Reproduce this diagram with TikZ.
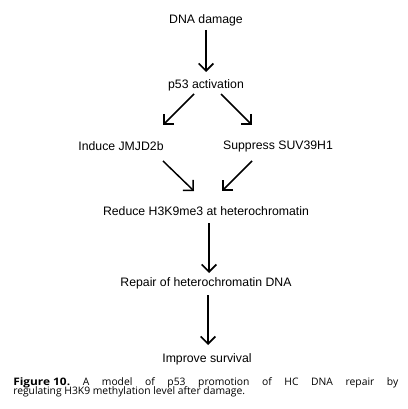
\documentclass[tikz,border=0pt]{standalone}
\usepackage{fontspec}
\setmainfont{Liberation Sans}
\newfontfamily\capfont{Open Sans}
\usetikzlibrary{arrows.meta}
\begin{document}
\begin{tikzpicture}[x=0.75pt,y=-0.75pt,
  lbl/.style={inner sep=0pt,font=\fontsize{9.2}{11}\selectfont},
  arr/.style={-{Straight Barb[length=5.5pt,width=11pt,line width=1.3pt]},line width=1.3pt},
  darr/.style={-{Straight Barb[length=5.5pt,width=11pt,line width=1.15pt]},line width=1.1pt},
  captxt/.style={anchor=base west,inner sep=0pt,font=\capfont\fontsize{7.75}{8}\selectfont}]
\useasboundingbox (0,0) rectangle (407,409);
\node[lbl] (dna) at (206,20) {DNA damage};
\node[lbl] (p53) at (206,85) {p53 activation};
\node[lbl] (jm) at (121,146) {Induce JMJD2b};
\node[lbl] (suv) at (278,146) {Suppress SUV39H1};
\node[lbl] (red) at (206,211) {Reduce H3K9me3 at heterochromatin};
\node[lbl] (rep) at (206,283) {Repair of heterochromatin DNA};
\node[lbl] (imp) at (207,359) {Improve survival};
\coordinate (a1s) at (206,30); \coordinate (a1e) at (206,72);
\coordinate (a2s) at (194,94); \coordinate (a2e) at (163,125);
\coordinate (a3s) at (221,94); \coordinate (a3e) at (252,125);
\coordinate (a4s) at (163,161); \coordinate (a4e) at (194,191);
\coordinate (a5s) at (252,161); \coordinate (a5e) at (222,191);
\coordinate (a6s) at (209,223); \coordinate (a6e) at (209,273);
\coordinate (a7s) at (208,295); \coordinate (a7e) at (208,345);
\draw[arr] (a1s) -- (a1e);
\draw[darr] (a2s) -- (a2e);
\draw[darr] (a3s) -- (a3e);
\draw[darr] (a4s) -- (a4e);
\draw[darr] (a5s) -- (a5e);
\draw[arr] (a6s) -- (a6e);
\draw[arr] (a7s) -- (a7e);
\node[captxt] (cap1) at (13,385)
  {\makebox[288.75pt][s]{\textbf{\scalebox{1.15}[1]{Figure 10.}} A model of p53 promotion of HC DNA repair by}};
\node[captxt] (cap2) at (13,394.5)
  {regulating H3K9 methylation level after damage.};
\end{tikzpicture}
\end{document}
